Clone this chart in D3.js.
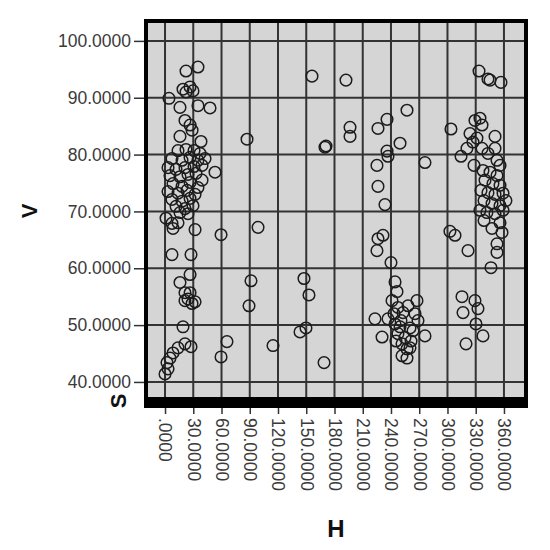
<!DOCTYPE html>
<html><head><meta charset="utf-8">
<script src="https://cdn.jsdelivr.net/npm/d3@7"></script>
<style>html,body{margin:0;padding:0;background:#fff;}svg{display:block;}</style>
</head><body>
<svg id="chart" width="550" height="550"></svg>
<script>
const hValues = [22.3,35.0,4.2,19.1,26.6,22.3,29.7,15.9,35.0,47.8,21.2,26.6,28.7,15.9,38.2,53.1,39.3,
 13.8,22.3,30.8,37.2,7.4,18.1,26.6,35.0,42.5,3.2,11.7,21.2,30.8,39.3,5.3,15.9,24.4,32.9,8.5,18.1,26.6,35.0,
 3.2,13.8,23.4,31.9,7.4,18.1,26.6,11.7,21.2,29.7,15.9,24.4,1.1,7.4,13.8,8.5,31.9,59.5,98.8,7.4,27.6,26.6,15.9,
 21.2,24.4,28.7,21.2,31.9,26.6,91.3,89.2,19.1,21.2,27.6,13.8,8.5,5.3,2.1,3.2,0.0,65.8,59.5,114.7,87.1,
 156.1,192.2,196.5,196.5,171.0,169.9,147.6,152.9,143.4,149.7,168.9,
 257.0,235.8,226.2,249.6,235.8,236.8,225.1,276.1,226.2,233.6,231.5,226.2,225.1,240.0,244.3,246.4,241.1,247.4,243.2,
 267.6,223.0,230.5,276.1,265.5,268.7,260.2,263.4,250.6,244.3,247.4,254.9,251.7,257.0,260.2,251.7,257.0,236.8,252.8,
 258.1,249.6,261.3,245.3,
 333.5,343.0,345.2,356.8,303.7,329.2,334.5,336.7,323.9,331.3,327.1,350.5,320.7,314.4,328.2,336.7,343.0,350.5,352.6,355.8,
 337.7,345.2,352.6,339.9,348.3,355.8,335.6,343.0,350.5,359.0,338.8,347.3,355.8,362.1,334.5,341.9,350.5,359.0,338.8,347.3,
 355.8,357.9,352.6,352.6,302.6,308.0,321.8,346.2,315.4,329.2,332.4,316.5,330.3,337.7,319.7];
const vValues = [94.7,95.4,89.9,91.5,91.9,91.0,91.2,88.3,88.6,88.2,86.0,85.2,84.3,83.2,82.3,76.9,75.5,
 80.7,80.9,80.7,80.2,79.3,79.0,79.5,79.0,79.3,77.7,77.4,77.7,77.9,78.1,76.3,76.1,76.5,76.7,74.9,74.4,75.1,74.2,
 73.5,73.2,73.7,73.0,72.1,71.8,72.3,70.9,70.5,71.0,69.8,69.6,68.8,67.9,68.0,67.0,66.8,65.9,67.2,62.4,62.4,58.9,57.5,
 55.7,54.6,53.8,54.3,54.1,55.7,57.8,53.4,49.7,46.7,46.2,46.0,45.1,44.2,43.4,42.3,41.4,47.1,44.4,46.4,82.7,
 93.8,93.1,84.8,83.2,81.5,81.3,58.2,55.3,48.8,49.5,43.4,
 87.8,86.2,84.6,82.0,80.6,79.7,78.1,78.6,74.4,71.2,65.8,65.2,63.1,61.0,57.6,55.9,54.3,53.1,52.0,
 54.3,51.1,47.9,48.1,52.0,50.8,49.5,49.0,50.8,50.2,48.5,47.8,46.7,45.8,46.0,44.6,44.2,51.1,52.2,
 53.4,49.7,47.2,47.2,
 94.7,93.3,93.1,92.7,84.5,86.0,86.4,85.2,83.7,82.9,82.2,83.2,81.1,79.7,78.1,81.1,80.2,81.1,79.0,78.1,
 77.2,76.9,76.3,75.5,74.9,74.6,73.7,73.3,73.0,73.2,71.9,71.4,71.0,71.9,70.2,69.8,69.6,70.2,68.4,67.0,
 68.0,66.3,64.3,62.8,66.5,65.8,63.1,60.1,55.0,54.3,52.9,52.2,50.2,48.1,46.7];
const hTicks = [0,30,60,90,120,150,180,210,240,270,300,330,360];
const vTicks = [40,50,60,70,80,90,100];
const hTickLabels = [".0000","30.0000","60.0000","90.0000","120.0000","150.0000","180.0000","210.0000","240.0000","270.0000","300.0000","330.0000","360.0000"];
const vTickLabels = ["40.0000","50.0000","60.0000","70.0000","80.0000","90.0000","100.0000"];

const points = hValues.map((h,i)=>({h, v:vValues[i]}));
const svg = d3.select("#chart");
const x = d3.scaleLinear().domain([-20.2, 383.4]).range([146, 526]);
const y = d3.scaleLinear().domain([37.0, 103.5]).range([399, 21]);
const L = 146, R = 526, T = 21, B = 399;

svg.append("rect").attr("x", L).attr("y", T).attr("width", R-L).attr("height", B-T).attr("fill", "#d5d5d5");

const grid = svg.append("g").attr("stroke", "#333").attr("stroke-width", 2);
grid.selectAll("line.v").data(hTicks).join("line").attr("class","v")
  .attr("x1", d=>x(d)).attr("x2", d=>x(d)).attr("y1", T).attr("y2", B);
grid.selectAll("line.h").data(vTicks).join("line").attr("class","h")
  .attr("y1", d=>y(d)).attr("y2", d=>y(d)).attr("x1", L).attr("x2", R);

svg.append("g").selectAll("circle").data(points).join("circle")
  .attr("cx", d=>x(d.h)).attr("cy", d=>y(d.v)).attr("r", 5.8)
  .attr("fill", "none").attr("stroke", "#1c1c1c").attr("stroke-width", 1.5);

// frame
svg.append("rect").attr("x", L).attr("y", T).attr("width", R-L).attr("height", B-T)
  .attr("fill", "none").attr("stroke", "#000").attr("stroke-width", 4);
svg.append("rect").attr("x", L-2).attr("y", B).attr("width", R-L+4).attr("height", 9).attr("fill", "#000");

// y axis
const yAxis = d3.axisLeft(y).tickValues(vTicks).tickSize(10).tickPadding(3)
  .tickFormat((d,i)=>vTickLabels[i]);
const gy = svg.append("g").attr("transform", `translate(${L-2},0)`).call(yAxis);
gy.select(".domain").remove();
gy.selectAll(".tick line").attr("stroke", "#333").attr("stroke-width", 1.5);
gy.selectAll(".tick text").attr("font-family", "Liberation Sans, Arial, sans-serif")
  .attr("font-size", 17.5).attr("fill", "#3a3a3a");

// x axis
const xAxis = d3.axisBottom(x).tickValues(hTicks).tickSize(6).tickPadding(0)
  .tickFormat((d,i)=>hTickLabels[i]);
const gx = svg.append("g").attr("transform", `translate(0,${B+9})`).call(xAxis);
gx.select(".domain").remove();
gx.selectAll(".tick line").attr("stroke", "#333").attr("stroke-width", 1.5);
gx.selectAll(".tick text").attr("font-family", "Liberation Sans, Arial, sans-serif")
  .attr("font-size", 17.5).attr("fill", "#3a3a3a")
  .attr("text-anchor", "start").attr("dy", "0.35em")
  .attr("transform", "translate(0,10) rotate(90)").attr("y", 0).attr("x", 0);

// titles
svg.append("text").attr("transform", "translate(37,211) rotate(-90)")
  .attr("text-anchor", "middle").attr("font-family", "Liberation Sans, Arial, sans-serif")
  .attr("font-weight", "bold").attr("font-size", 22).attr("fill", "#111").text("V");
svg.append("text").attr("transform", "translate(126,401) rotate(-90)")
  .attr("text-anchor", "middle").attr("font-family", "Liberation Sans, Arial, sans-serif")
  .attr("font-weight", "bold").attr("font-size", 22).attr("fill", "#111").text("S");
svg.append("text").attr("x", 336).attr("y", 537)
  .attr("text-anchor", "middle").attr("font-family", "Liberation Sans, Arial, sans-serif")
  .attr("font-weight", "bold").attr("font-size", 24).attr("fill", "#111").text("H");
</script>
</body></html>
